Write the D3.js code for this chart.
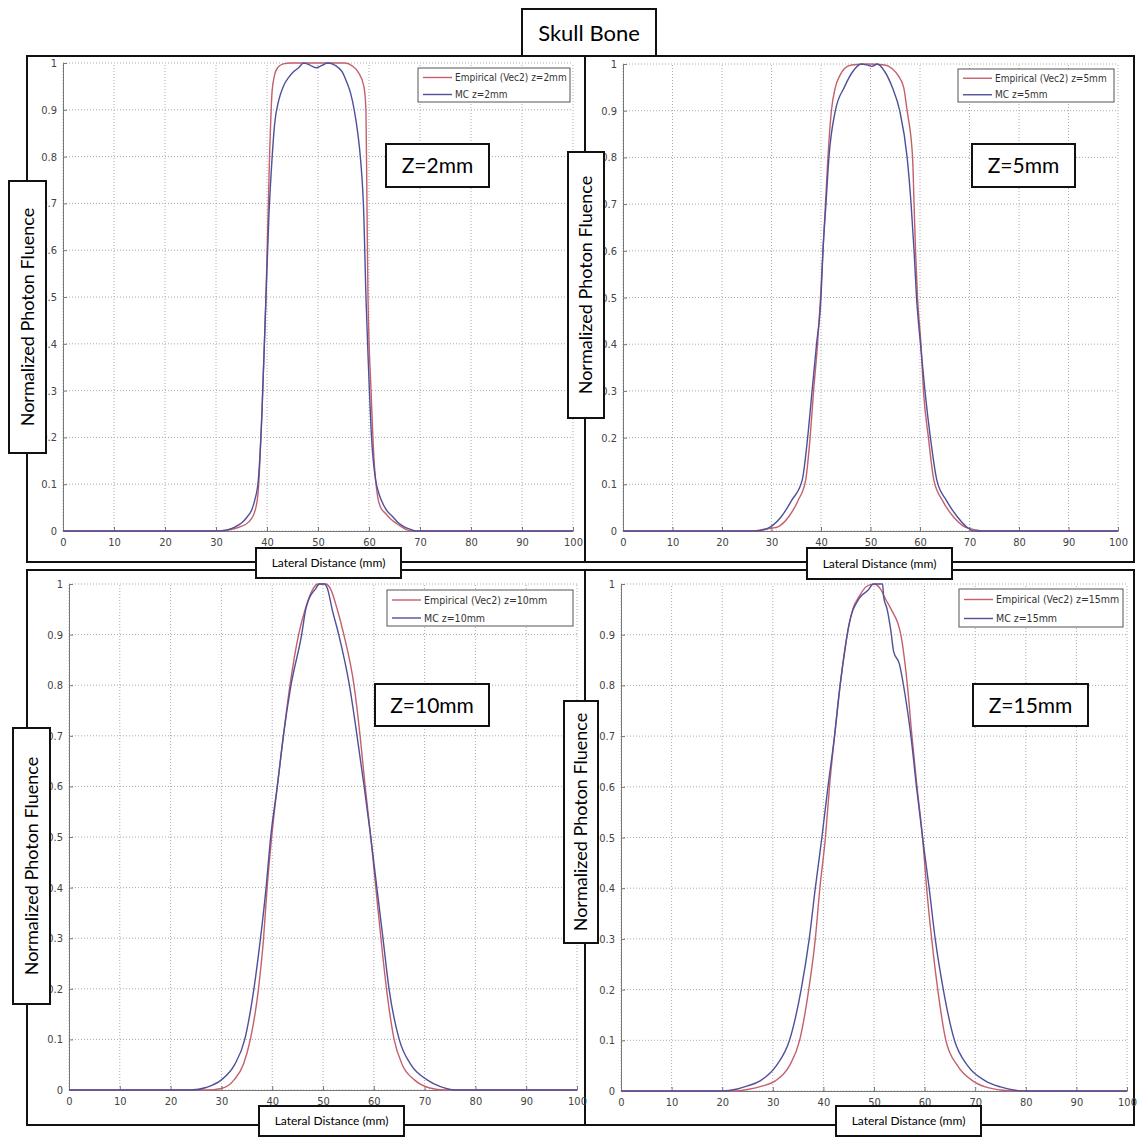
<!DOCTYPE html>
<html>
<head>
<meta charset="utf-8">
<script src="https://cdn.jsdelivr.net/npm/d3@7"></script>
<style>
  body { margin: 0; background: #fff; }
  svg { display: block; }
</style>
</head>
<body>
<script>
// ---- data ----
const xTicks = [0, 10, 20, 30, 40, 50, 60, 70, 80, 90, 100];
const yTicks = [0, 0.1, 0.2, 0.3, 0.4, 0.5, 0.6, 0.7, 0.8, 0.9, 1];
const yTickLabels = ["0", "0.1", "0.2", "0.3", "0.4", "0.5", "0.6", "0.7", "0.8", "0.9", "1"];
const depths = ["2mm", "5mm", "10mm", "15mm"];
const seriesNames = ["Empirical (Vec2) z=", "MC z="];

// z = 2mm
const emp2X = [0, 30, 32.3, 34.5, 36.5, 37.7, 38.3, 39.0, 39.8, 40.5, 41.0, 41.5, 42.1, 43.2, 44.7, 50, 55.3, 56.8, 57.9, 59.0, 59.4, 59.6, 59.8, 60.4, 61.0, 61.7, 62.3, 63.2, 64.3, 65.4, 66.8, 68.4, 100];
const emp2Y = [0, 0, 0.002, 0.008, 0.02, 0.045, 0.088, 0.25, 0.5, 0.8, 0.94, 0.975, 0.99, 0.998, 1, 1, 1, 0.993, 0.98, 0.95, 0.9, 0.7, 0.5, 0.3, 0.15, 0.073, 0.05, 0.038, 0.025, 0.016, 0.006, 0, 0];
const mc2X = [0, 30, 32, 33.8, 35, 36.1, 37.0, 37.6, 38.3, 39.0, 39.8, 40.4, 40.9, 41.5, 42.3, 43.2, 44.3, 45.1, 46.2, 47.2, 48.5, 49.6, 50.8, 51.9, 53.0, 54.0, 54.8, 55.6, 56.4, 57.1, 57.8, 58.3, 59.0, 59.4, 59.9, 60.5, 61.3, 61.8, 62.4, 63.4, 64.7, 65.8, 66.9, 68, 69.2, 100];
const mc2Y = [0, 0, 0.002, 0.009, 0.017, 0.03, 0.045, 0.066, 0.109, 0.25, 0.5, 0.68, 0.78, 0.87, 0.92, 0.95, 0.97, 0.98, 0.99, 1.0, 0.995, 0.99, 0.995, 1.0, 0.997, 0.99, 0.98, 0.96, 0.935, 0.9, 0.85, 0.8, 0.67, 0.5, 0.35, 0.2, 0.109, 0.085, 0.066, 0.045, 0.03, 0.017, 0.009, 0.004, 0, 0];

// z = 5mm
const emp5X = [0, 26.5, 28, 30, 31.3, 33.5, 35.4, 36.9, 37.8, 38.5, 39.3, 39.9, 40.4, 40.9, 41.4, 42.1, 42.9, 43.8, 44.7, 46.2, 49.5, 52.9, 54.4, 55.6, 56.7, 57.4, 58.5, 58.8, 59.1, 59.5, 60.2, 60.7, 61.7, 62.8, 64.5, 66.7, 69.0, 71, 73, 100];
const emp5Y = [0, 0, 0.003, 0.006, 0.009, 0.031, 0.066, 0.109, 0.2, 0.3, 0.4, 0.5, 0.6, 0.7, 0.8, 0.9, 0.95, 0.975, 0.99, 0.998, 1.0, 0.998, 0.99, 0.975, 0.95, 0.9, 0.8, 0.7, 0.6, 0.5, 0.4, 0.3, 0.2, 0.109, 0.066, 0.031, 0.009, 0.003, 0, 0];
const mc5X = [0, 27, 29.8, 32.0, 34.1, 36.2, 37.3, 38.2, 39.1, 40.0, 40.4, 41.0, 41.6, 42.9, 44.7, 46.5, 48.1, 49.3, 50.3, 51.4, 52.8, 54.4, 55.9, 57.4, 58.2, 58.8, 59.3, 60.1, 61.0, 62.1, 63.4, 65.3, 67.5, 69.4, 71, 100];
const mc5Y = [0, 0, 0.009, 0.031, 0.066, 0.109, 0.2, 0.3, 0.4, 0.5, 0.6, 0.7, 0.8, 0.9, 0.95, 0.985, 1.0, 0.998, 0.995, 1.0, 0.985, 0.95, 0.9, 0.8, 0.7, 0.6, 0.5, 0.4, 0.3, 0.2, 0.109, 0.066, 0.031, 0.009, 0, 0];

// z = 10mm
const emp10X = [0, 27, 30, 32.5, 34.3, 35.7, 37.3, 38.3, 39.0, 39.9, 41.0, 42.2, 43.5, 45.2, 46.5, 48.0, 49.0, 50.5, 51.5, 52.8, 54.1, 56.1, 57.3, 58.3, 59.4, 60.4, 61.4, 62.5, 64.0, 65.6, 68, 71, 74, 100];
const emp10Y = [0, 0, 0.003, 0.02, 0.05, 0.1, 0.2, 0.3, 0.4, 0.5, 0.6, 0.7, 0.8, 0.9, 0.95, 0.99, 1.0, 1.0, 0.99, 0.95, 0.9, 0.8, 0.7, 0.6, 0.5, 0.4, 0.3, 0.2, 0.1, 0.05, 0.02, 0.004, 0, 0];
const mc10X = [0, 24, 27, 30, 32.6, 34.6, 36.4, 37.7, 38.8, 39.7, 41.0, 42.2, 43.7, 45.8, 46.6, 47.2, 48.5, 49.3, 50.3, 50.9, 51.8, 53.1, 55.2, 56.7, 58.1, 59.4, 60.6, 61.8, 63.0, 65.0, 67.3, 70.5, 73, 76, 100];
const mc10Y = [0, 0, 0.005, 0.02, 0.05, 0.1, 0.2, 0.3, 0.4, 0.5, 0.6, 0.7, 0.8, 0.9, 0.95, 0.97, 0.99, 1.0, 1.0, 0.99, 0.95, 0.9, 0.8, 0.7, 0.6, 0.5, 0.4, 0.3, 0.2, 0.1, 0.05, 0.02, 0.007, 0, 0];

// z = 15mm
const emp15X = [0, 22, 25, 28, 30.5, 33.3, 35.3, 37.1, 38.4, 39.3, 40.4, 41.2, 42.2, 43.3, 44.7, 45.8, 47.1, 48.5, 50, 51.3, 52.3, 53.4, 55.3, 56.6, 57.5, 58.5, 59.6, 60.4, 61.4, 62.6, 64.2, 66.5, 69.5, 72, 75, 78, 100];
const emp15Y = [0, 0, 0.003, 0.01, 0.02, 0.05, 0.1, 0.2, 0.3, 0.4, 0.5, 0.6, 0.7, 0.8, 0.9, 0.95, 0.976, 0.995, 1.0, 0.99, 0.97, 0.95, 0.9, 0.8, 0.7, 0.6, 0.5, 0.4, 0.3, 0.2, 0.1, 0.05, 0.02, 0.008, 0.002, 0, 0];
const mc15X = [0, 20, 23, 25, 27.5, 30.7, 33.3, 35.6, 37.2, 38.4, 39.7, 40.9, 42.2, 43.3, 44.4, 45.0, 47.1, 48.75, 49.9, 51.7, 51.9, 52.6, 53.3, 53.9, 55.0, 56.1, 57.3, 58.4, 59.6, 60.9, 62.1, 63.7, 65.9, 68.5, 72, 75, 77.5, 80, 100];
const mc15Y = [0, 0, 0.004, 0.01, 0.02, 0.05, 0.1, 0.2, 0.3, 0.4, 0.5, 0.6, 0.7, 0.8, 0.88, 0.917, 0.972, 0.987, 1.0, 1.0, 0.975, 0.95, 0.91, 0.866, 0.843, 0.784, 0.7, 0.6, 0.5, 0.4, 0.3, 0.2, 0.1, 0.05, 0.02, 0.008, 0.002, 0, 0];

const empX = [emp2X, emp5X, emp10X, emp15X], empY = [emp2Y, emp5Y, emp10Y, emp15Y];
const mcX = [mc2X, mc5X, mc10X, mc15X], mcY = [mc2Y, mc5Y, mc10Y, mc15Y];

// ---- layout of the four panels (pixels) ----
const layout = [
  {frame: [27, 56, 585, 562], plot: [63, 63, 573, 531], ylab: [9, 181, 46, 453], xlab: [256, 548, 401, 578], legend: [418, 68, 570, 102], zbox: [386, 144, 489, 187], lf: 10},
  {frame: [585, 56, 1134, 562], plot: [623, 64, 1118, 531], ylab: [568, 152, 604, 418], xlab: [807, 548, 952, 579], legend: [958, 69, 1114, 102], zbox: [972, 144, 1075, 187], lf: 10},
  {frame: [27, 570, 585, 1125], plot: [69, 584, 577, 1090], ylab: [13, 728, 50, 1004], xlab: [259, 1106, 404, 1136], legend: [387, 590, 573, 626], zbox: [375, 684, 489, 726], lf: 10.5},
  {frame: [585, 570, 1134, 1125], plot: [621, 584, 1127, 1091], ylab: [564, 701, 598, 943], xlab: [836, 1106, 981, 1136], legend: [959, 589, 1123, 627], zbox: [973, 684, 1088, 726], lf: 10.5}
];

const red = "#c4606c", blue = "#4f4f9c";
const labelFont = "Lato, 'Open Sans', sans-serif";
const tickFont = "'Liberation Sans Narrow', 'DejaVu Sans Condensed', sans-serif";

var svg = d3.select("body").append("svg")
    .attr("width", 1139)
    .attr("height", 1137);

function box(x0, y0, x1, y1, sw) {
  return svg.append("rect")
      .attr("x", x0).attr("y", y0)
      .attr("width", x1 - x0).attr("height", y1 - y0)
      .attr("fill", "#fff")
      .attr("stroke", "#111")
      .attr("stroke-width", sw);
}

// frames first, so the label boxes sit on top of them
layout.forEach(L => {
  svg.append("rect")
      .attr("x", L.frame[0]).attr("y", L.frame[1])
      .attr("width", L.frame[2] - L.frame[0]).attr("height", L.frame[3] - L.frame[1])
      .attr("fill", "none")
      .attr("stroke", "#111")
      .attr("stroke-width", 2);
});

layout.forEach((L, i) => {
  var x = d3.scaleLinear().domain([0, 100]).range([L.plot[0], L.plot[2]]);
  var y = d3.scaleLinear().domain([0, 1]).range([L.plot[3], L.plot[1]]);

  var g = svg.append("g");

  // dotted grid
  g.selectAll(".gx").data(xTicks).enter().append("line")
      .attr("x1", d => x(d)).attr("x2", d => x(d))
      .attr("y1", y(0)).attr("y2", y(1))
      .attr("stroke", "#aaa").attr("stroke-width", 1)
      .attr("stroke-dasharray", "1,2");
  g.selectAll(".gy").data(yTicks).enter().append("line")
      .attr("x1", x(0)).attr("x2", x(100))
      .attr("y1", d => y(d)).attr("y2", d => y(d))
      .attr("stroke", "#aaa").attr("stroke-width", 1)
      .attr("stroke-dasharray", "1,2");

  // axes, ticks pointing inward like MATLAB
  var ax = g.append("g")
      .attr("transform", "translate(0," + y(0) + ")")
      .call(d3.axisBottom(x).tickValues(xTicks).tickSizeInner(-4).tickSizeOuter(0).tickPadding(7));
  var ay = g.append("g")
      .attr("transform", "translate(" + x(0) + ",0)")
      .call(d3.axisLeft(y).tickValues(yTicks).tickFormat((d, k) => yTickLabels[k]).tickSizeInner(-4).tickSizeOuter(0).tickPadding(6));
  [ax, ay].forEach(a => {
    a.select(".domain").attr("stroke", "#777");
    a.selectAll(".tick line").attr("stroke", "#777");
    a.selectAll("text").attr("fill", "#444").attr("font-size", 11).attr("font-family", tickFont);
  });

  // curves
  var line = d3.line().curve(d3.curveMonotoneX).x(d => x(d[0])).y(d => y(d[1]));
  g.append("path")
      .datum(d3.zip(empX[i], empY[i]))
      .attr("d", line)
      .attr("fill", "none").attr("stroke", red).attr("stroke-width", 1.4);
  g.append("path")
      .datum(d3.zip(mcX[i], mcY[i]))
      .attr("d", line)
      .attr("fill", "none").attr("stroke", blue).attr("stroke-width", 1.4);

  // legend
  var lg = L.legend;
  svg.append("rect")
      .attr("x", lg[0]).attr("y", lg[1])
      .attr("width", lg[2] - lg[0]).attr("height", lg[3] - lg[1])
      .attr("fill", "#fff").attr("stroke", "#555").attr("stroke-width", 1);
  var rowH = (lg[3] - lg[1]) / 2;
  [red, blue].forEach((c, k) => {
    var yy = lg[1] + rowH * (k + 0.5) + 1;
    svg.append("line")
        .attr("x1", lg[0] + 5).attr("x2", lg[0] + 34)
        .attr("y1", yy).attr("y2", yy)
        .attr("stroke", c).attr("stroke-width", 1.4);
    svg.append("text")
        .attr("x", lg[0] + 37).attr("y", yy)
        .attr("dy", "0.35em")
        .attr("font-family", tickFont)
        .attr("font-size", L.lf)
        .attr("fill", "#333")
        .text(seriesNames[k] + depths[i]);
  });

  // depth label
  var zb = L.zbox;
  box(zb[0], zb[1], zb[2], zb[3], 2);
  svg.append("text")
      .attr("x", (zb[0] + zb[2]) / 2).attr("y", (zb[1] + zb[3]) / 2)
      .attr("dy", "0.36em")
      .attr("text-anchor", "middle")
      .attr("font-family", labelFont).attr("font-size", 21)
      .text("Z=" + depths[i]);

  // y label box
  var yl = L.ylab;
  box(yl[0], yl[1], yl[2], yl[3], 2);
  svg.append("text")
      .attr("transform", "translate(" + ((yl[0] + yl[2]) / 2) + "," + ((yl[1] + yl[3]) / 2) + ") rotate(-90)")
      .attr("dy", "0.35em")
      .attr("text-anchor", "middle")
      .attr("font-family", labelFont).attr("font-size", 18)
      .text("Normalized Photon Fluence");

  // x label box
  var xl = L.xlab;
  box(xl[0], xl[1], xl[2], xl[3], 2);
  svg.append("text")
      .attr("x", (xl[0] + xl[2]) / 2).attr("y", (xl[1] + xl[3]) / 2)
      .attr("dy", "0.35em")
      .attr("text-anchor", "middle")
      .attr("font-family", labelFont).attr("font-size", 12)
      .text("Lateral Distance (mm)");
});

// title
box(522, 9, 656, 56, 2);
svg.append("text")
    .attr("x", 589).attr("y", 33)
    .attr("dy", "0.35em")
    .attr("text-anchor", "middle")
    .attr("font-family", labelFont).attr("font-size", 22)
    .text("Skull Bone");
</script>
</body>
</html>
